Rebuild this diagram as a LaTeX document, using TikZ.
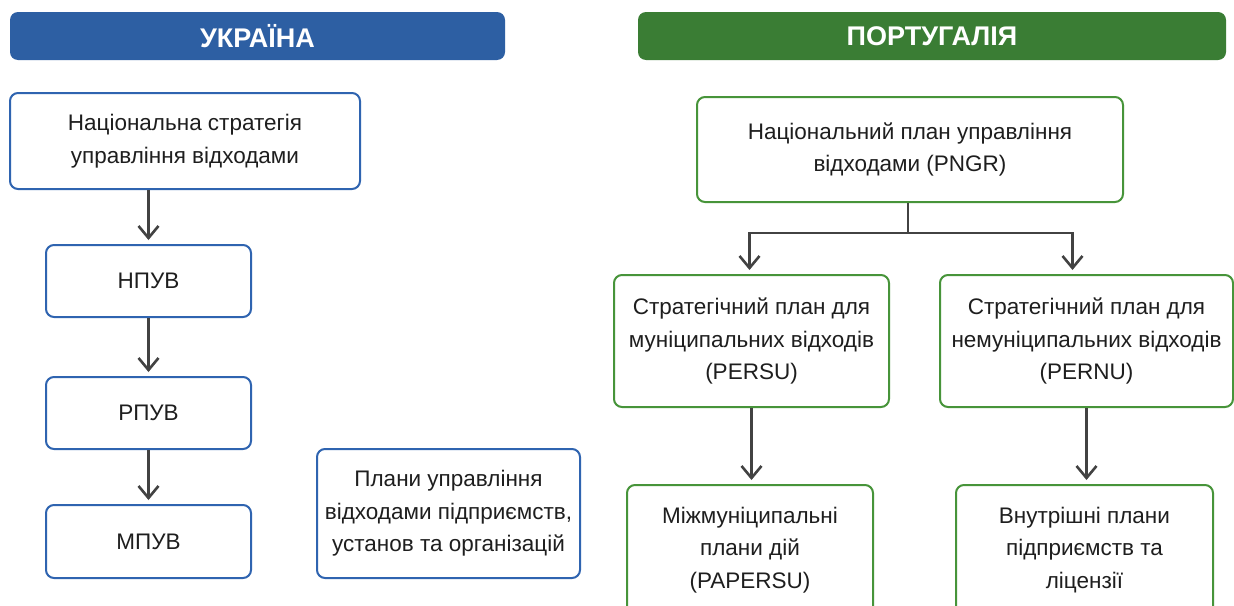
\documentclass[tikz,border=0pt]{standalone}
\usepackage{fontspec}
\setmainfont{Liberation Sans}
\usetikzlibrary{arrows.meta,calc}
\definecolor{uablue}{HTML}{2D5FA3}
\definecolor{uaedge}{HTML}{2F64B0}
\definecolor{ptgreen}{HTML}{3A7D34}
\definecolor{ptedge}{HTML}{47943A}
\definecolor{arrgray}{HTML}{424242}
\definecolor{txtgray}{HTML}{1E1E1E}

\begin{document}
\begin{tikzpicture}[x=1pt,y=-1pt,
  head/.style={rounded corners=8pt,text=white,inner sep=0pt,
    font=\fontsize{27}{32}\selectfont\bfseries},
  uabox/.style={draw=uaedge,line width=2pt,rounded corners=8pt,fill=white,
    text=txtgray,align=center,inner sep=0pt,font=\fontsize{22.5}{32.5}\selectfont},
  ptbox/.style={uabox,draw=ptedge},
  link/.style={draw=arrgray,line width=2.6pt},
  arr/.style={link,shorten >=4pt,-{Straight Barb[length=12pt,width=20pt]}}]
\useasboundingbox (0,0) rectangle (1234,605);
\clip (0,0) rectangle (1234,605);
\fill[white] (0,0) rectangle (1234,605);

% Ukraine
\node[head,fill=uablue,minimum width=495pt,minimum height=48pt] (uahead) at (257.5,36) {УКРАЇНА};
\node[uabox,minimum width=350pt,minimum height=96pt] (nsuv) at (185,141) {Національна стратегія\\управління відходами};
\node[uabox,minimum width=205pt,minimum height=72pt] (npuv) at (148.5,281) {НПУВ};
\node[uabox,minimum width=205pt,minimum height=72pt] (rpuv) at (148.5,413) {РПУВ};
\node[uabox,minimum width=205pt,minimum height=73pt] (mpuv) at (148.5,541.5) {МПУВ};
\node[uabox,minimum width=263pt,minimum height=129pt] (plans) at (448.5,513.5) {Плани управління\\відходами підприємств,\\установ та організацій};

\draw[arr] (nsuv.south -| npuv.north) -- (npuv.north);
\draw[arr] (npuv) -- (rpuv);
\draw[arr] (rpuv) -- (mpuv);

% Portugal
\node[head,fill=ptgreen,minimum width=588pt,minimum height=48pt] (pthead) at (932,36) {ПОРТУГАЛІЯ};
\node[ptbox,minimum width=426pt,minimum height=105pt] (pngr) at (910,149.5) {Національний план управління\\відходами (PNGR)};
\node[ptbox,minimum width=275pt,minimum height=132pt] (persu) at (751.5,341) {Стратегічний план для\\муніципальних відходів\\(PERSU)};
\node[ptbox,minimum width=293pt,minimum height=132pt] (pernu) at (1086.5,341) {Стратегічний план для\\немуніципальних відходів\\(PERNU)};
\node[ptbox,minimum width=246pt,minimum height=130pt] (papersu) at (750,550) {Міжмуніципальні\\плани дій\\(PAPERSU)};
\node[ptbox,minimum width=257pt,minimum height=130pt] (vnutr) at (1084.5,550) {Внутрішні плани\\підприємств та\\ліцензії};

\coordinate (fork) at ($(pngr.south)+(-2,30)$);
\draw[link] (fork |- pngr.south) -- (fork);
\draw[arr] (fork) -| ([xshift=-2pt]persu.north);
\draw[arr] (fork) -| ([xshift=-14pt]pernu.north);
\draw[arr] (persu.south) -- (persu.south |- papersu.north);
\draw[arr] (pernu.south) -- (pernu.south |- vnutr.north);
\end{tikzpicture}
\end{document}
